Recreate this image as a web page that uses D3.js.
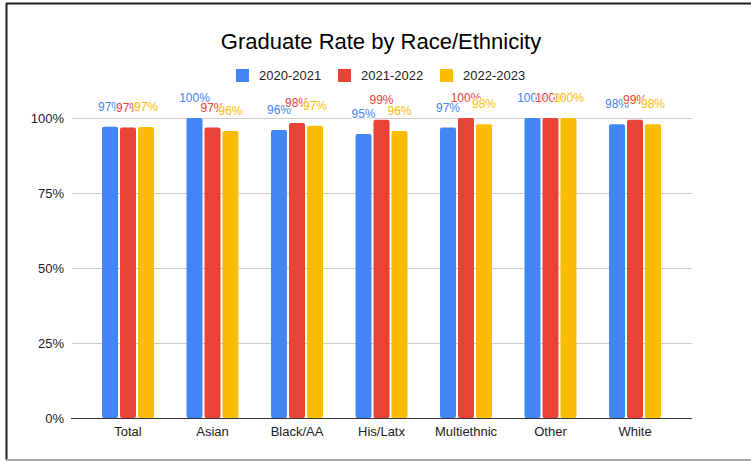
<!DOCTYPE html>
<html>
<head>
<meta charset="utf-8">
<script src="https://cdn.jsdelivr.net/npm/d3@7/dist/d3.min.js"></script>
<style>
  body { margin: 0; background: #fff; }
  svg { display: block; font-family: "Liberation Sans", Arial, sans-serif; }
</style>
</head>
<body>
<script>
// Chart data
var categories = ["Total", "Asian", "Black/AA", "His/Latx", "Multiethnic", "Other", "White"];
var seriesNames = ["2020-2021", "2021-2022", "2022-2023"];
var rate2021 = [97.1, 100, 96, 94.7, 96.8, 100, 97.9];
var rate2122 = [96.8, 96.8, 98.3, 99.4, 100, 100, 99.4];
var rate2223 = [97.0, 95.7, 97.4, 95.7, 97.9, 100, 97.9];
var yTicks = [0, 25, 50, 75, 100];
var colors = ["#4285F4", "#EA4335", "#FBBC04"];

var seriesValues = [rate2021, rate2122, rate2223];

var width = 751, height = 461;

var svg = d3.select("body").append("svg")
  .attr("width", width)
  .attr("height", height);

// Frame around the picture
svg.append("line")
  .attr("x1", 6).attr("x2", width).attr("y1", 3.5).attr("y2", 3.5)
  .attr("stroke", "#222").attr("stroke-width", 2);
svg.append("line")
  .attr("x1", 6.5).attr("x2", 6.5).attr("y1", 3).attr("y2", 460)
  .attr("stroke", "#222").attr("stroke-width", 2);
svg.append("line")
  .attr("x1", 6).attr("x2", width).attr("y1", 460).attr("y2", 460)
  .attr("stroke", "#aaa").attr("stroke-width", 2);

// Title
svg.append("text")
  .attr("x", 381)
  .attr("y", 49)
  .attr("text-anchor", "middle")
  .style("font-size", "22px")
  .style("fill", "#000")
  .text("Graduate Rate by Race/Ethnicity");

// Legend
var legendX = [236, 338, 440];
var legend = svg.append("g");
seriesNames.forEach(function(name, i) {
  legend.append("rect")
    .attr("x", legendX[i]).attr("y", 69)
    .attr("width", 13).attr("height", 13)
    .attr("fill", colors[i]);
  legend.append("text")
    .attr("x", legendX[i] + 23).attr("y", 80)
    .style("font-size", "13px")
    .style("fill", "#222")
    .text(name);
});

// Scales
var x = d3.scaleBand()
  .domain(categories)
  .range([85.75, 677.25])
  .paddingInner(0.385)
  .paddingOuter(0.1925);

var xs = d3.scaleBand()
  .domain(d3.range(seriesNames.length))
  .range([0, x.bandwidth()])
  .paddingInner(0.11);

var y = d3.scaleLinear()
  .domain([0, 100])
  .range([418, 118]);

// Gridlines
svg.append("g")
  .selectAll("line")
  .data(yTicks.filter(function(d) { return d > 0; }))
  .enter().append("line")
  .attr("x1", 72).attr("x2", 692)
  .attr("y1", function(d) { return y(d) + 0.5; })
  .attr("y2", function(d) { return y(d) + 0.5; })
  .attr("stroke", "#ccc");

// Y labels
var yAxis = d3.axisLeft(y)
  .tickValues(yTicks)
  .tickSize(0)
  .tickPadding(0)
  .tickFormat(function(d) { return d + "%"; });
var gy = svg.append("g")
  .attr("transform", "translate(64,0)")
  .call(yAxis);
gy.select(".domain").remove();
gy.selectAll("text")
  .style("font-size", "13px")
  .style("font-family", "Liberation Sans, Arial, sans-serif")
  .style("fill", "#222");

// Bars
var groups = svg.append("g")
  .selectAll("g")
  .data(categories)
  .enter().append("g")
  .attr("transform", function(d) { return "translate(" + x(d) + ",0)"; });

groups.selectAll("rect")
  .data(function(d, ci) {
    return seriesValues.map(function(vals, si) { return {s: si, v: vals[ci]}; });
  })
  .enter().append("rect")
  .attr("x", function(d) { return xs(d.s); })
  .attr("y", function(d) { return y(d.v); })
  .attr("width", xs.bandwidth())
  .attr("height", function(d) { return y(0) - y(d.v); })
  .attr("rx", 2)
  .attr("fill", function(d) { return colors[d.s]; });

// Baseline axis
var xAxis = d3.axisBottom(x).tickSize(0).tickPadding(9);
var gx = svg.append("g")
  .attr("transform", "translate(0,418)")
  .call(xAxis);
gx.select(".domain").remove();
gx.selectAll("text")
  .style("font-size", "13px")
  .style("font-family", "Liberation Sans, Arial, sans-serif")
  .style("fill", "#222");
svg.append("line")
  .attr("x1", 71).attr("x2", 692)
  .attr("y1", 418.5).attr("y2", 418.5)
  .attr("stroke", "#333");

// Data labels, drawn series by series so later ones sit on top
seriesValues.forEach(function(vals, si) {
  svg.append("g")
    .selectAll("text")
    .data(vals)
    .enter().append("text")
    .attr("x", function(d, ci) { return x(categories[ci]) + xs(si) + xs.bandwidth() / 2; })
    .attr("y", function(d) { return y(d) - 16; })
    .attr("text-anchor", "middle")
    .style("font-size", "12px")
    .style("fill", colors[si])
    .style("stroke", "#fff")
    .style("stroke-width", 2)
    .style("paint-order", "stroke")
    .text(function(d) { return Math.round(d) + "%"; });
});
</script>
</body>
</html>
